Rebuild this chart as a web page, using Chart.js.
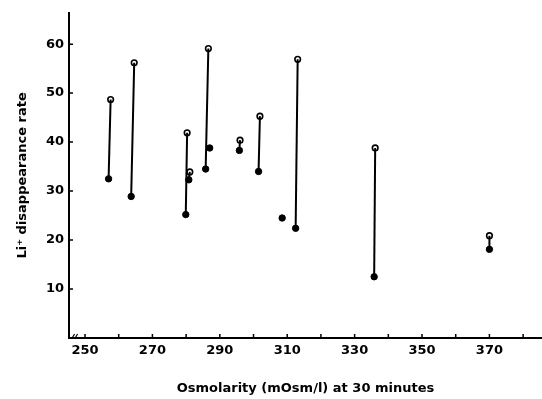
<!DOCTYPE html>
<html>
<head>
<meta charset="utf-8">
<script src="https://cdn.jsdelivr.net/npm/chart.js@4/dist/chart.umd.min.js"></script>
<style>
  html, body { margin: 0; padding: 0; background: #fff; }
  #wrap { width: 542px; height: 399px; }
</style>
</head>
<body>
<div id="wrap"><canvas id="c" width="542" height="399"></canvas></div>
<script>
// Filled circles (lower values) and open circles (upper values) for each subject
const xFilled = [257.0, 263.7, 279.9, 280.8, 285.8, 287.0, 295.8, 301.5, 308.5, 312.5, 335.8, 370.0];
const yFilled = [32.5, 28.9, 25.2, 32.3, 34.5, 38.8, 38.3, 34.0, 24.5, 22.4, 12.5, 18.1];
const xOpen   = [257.6, 264.6, 280.3, 281.1, 286.6, null, 296.0, 301.9, null, 313.1, 336.1, 370.0];
const yOpen   = [48.7, 56.2, 41.9, 33.9, 59.1, null, 40.4, 45.3, null, 56.9, 38.8, 20.9];
const xTickLabels = [250, 270, 290, 310, 330, 350, 370];
const yTickLabels = [10, 20, 30, 40, 50, 60];
const xTitle = 'Osmolarity (mOsm/l) at 30 minutes';
const yTitle = 'Li\u207A disappearance rate';

const FONT = "'DejaVu Sans', 'Liberation Sans', Arial, sans-serif";

const datasets = [];
// connecting vertical segments
for (let i = 0; i < xFilled.length; i++) {
  if (xOpen[i] === null) continue;
  datasets.push({
    type: 'line',
    data: [{x: xFilled[i], y: yFilled[i]}, {x: xOpen[i], y: yOpen[i]}],
    borderColor: '#000',
    borderWidth: 2,
    pointRadius: 0,
    fill: false,
    tension: 0
  });
}
datasets.push({
  type: 'scatter',
  data: xFilled.map((x, i) => ({x: x, y: yFilled[i]})),
  backgroundColor: '#000',
  borderColor: '#000',
  borderWidth: 1,
  pointRadius: 3.2
});
datasets.push({
  type: 'scatter',
  data: xOpen.map((x, i) => ({x: x, y: yOpen[i]})).filter(p => p.x !== null),
  backgroundColor: '#fff',
  borderColor: '#000',
  borderWidth: 1.6,
  pointRadius: 2.8
});

const innerTicks = {
  id: 'innerTicks',
  afterDraw(chart) {
    const ctx = chart.ctx;
    const xs = chart.scales.x, ys = chart.scales.y;
    const area = chart.chartArea;
    ctx.save();
    ctx.strokeStyle = '#000';
    ctx.lineWidth = 1.5;
    ctx.beginPath();
    xs.ticks.forEach(t => {
      if (t.value % 10 !== 0) return;
      const px = xs.getPixelForValue(t.value);
      ctx.moveTo(px, area.bottom);
      ctx.lineTo(px, area.bottom - 4);
    });
    ys.ticks.forEach(t => {
      if (t.value % 10 !== 0 || t.value === 0) return;
      const py = ys.getPixelForValue(t.value);
      ctx.moveTo(area.left, py);
      ctx.lineTo(area.left + 4, py);
    });
    ctx.stroke();
    // axis break marks near the origin
    ctx.lineWidth = 1.2;
    ctx.beginPath();
    const bx = xs.getPixelForValue(246.6);
    const by = area.bottom;
    ctx.moveTo(bx - 2, by + 1); ctx.lineTo(bx + 1, by - 4);
    ctx.moveTo(bx + 1, by + 1); ctx.lineTo(bx + 4, by - 4);
    ctx.stroke();
    ctx.restore();
  }
};

new Chart(document.getElementById('c'), {
  type: 'scatter',
  data: { datasets: datasets },
  plugins: [innerTicks],
  options: {
    responsive: false,
    animation: false,
    devicePixelRatio: 1,
    layout: { autoPadding: false, padding: { top: 6, right: 0, bottom: 0, left: 0 } },
    plugins: { legend: { display: false }, tooltip: { enabled: false } },
    scales: {
      x: {
        type: 'linear',
        min: 245.25,
        max: 385.6,
        border: { display: true, color: '#000', width: 2 },
        grid: { display: true, drawOnChartArea: false, drawTicks: false },
        ticks: {
          stepSize: 10,
          includeBounds: false,
          autoSkip: false,
          maxRotation: 0,
          padding: 5,
          color: '#000',
          font: { family: FONT, size: 13, weight: 'bold' },
          callback: v => xTickLabels.includes(v) ? String(v) : ''
        },
        title: {
          display: true,
          text: xTitle,
          color: '#000',
          font: { family: FONT, size: 13, weight: 'bold' },
          padding: { top: 10, bottom: 3 }
        },
        afterFit: s => { s.height = 61; }
      },
      y: {
        type: 'linear',
        min: 0,
        max: 66.4,
        border: { display: true, color: '#000', width: 2 },
        grid: { display: true, drawOnChartArea: false, drawTicks: false },
        ticks: {
          stepSize: 10,
          includeBounds: false,
          padding: 5,
          color: '#000',
          font: { family: FONT, size: 13, weight: 'bold' },
          callback: v => yTickLabels.includes(v) ? String(v) : ''
        },
        title: {
          display: true,
          text: yTitle,
          color: '#000',
          font: { family: FONT, size: 13, weight: 'bold' },
          padding: { top: 15, bottom: 0 }
        },
        afterFit: s => { s.width = 69; }
      }
    }
  }
});
</script>
</body>
</html>
